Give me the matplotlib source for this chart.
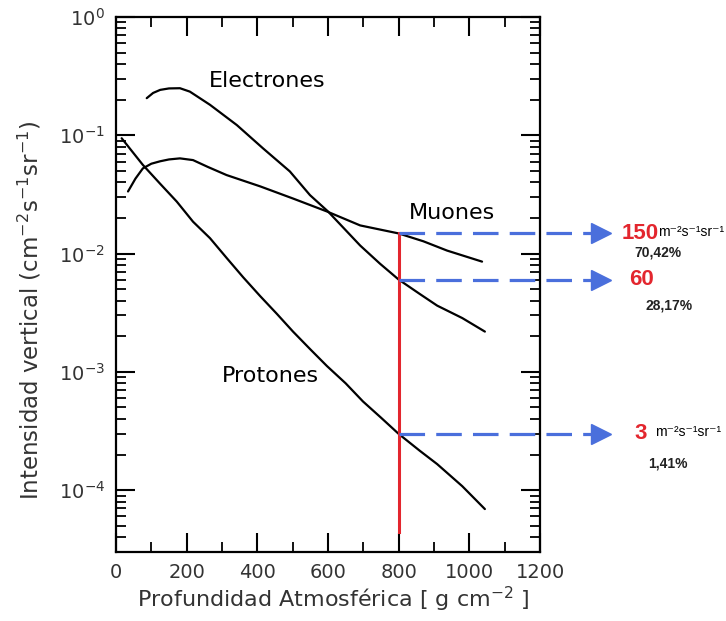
import numpy as np
import matplotlib
matplotlib.use("Agg")
import matplotlib.pyplot as plt
from matplotlib.ticker import MultipleLocator, LogLocator, NullFormatter

# profundidad atmosferica (g cm^-2) e intensidad vertical (cm^-2 s^-1 sr^-1)
electrones_x = [87, 105, 125, 150, 181, 209, 266, 342, 416, 492, 549, 600, 691, 747, 800, 860, 909, 980, 1044]
electrones_y = [0.206, 0.228, 0.242, 0.249, 0.250, 0.234, 0.181, 0.122, 0.0776, 0.0495, 0.0312,
                0.0227, 0.0117, 0.00822, 0.00603, 0.00455, 0.00363, 0.00285, 0.00219]

muones_x = [34, 55, 76, 100, 125, 150, 181, 218, 260, 313, 408, 501, 597, 691, 800, 870, 937, 1036]
muones_y = [0.0335, 0.0430, 0.0525, 0.0575, 0.0603, 0.0625, 0.0638, 0.0617, 0.0540, 0.0461,
            0.0370, 0.0292, 0.0227, 0.0173, 0.0148, 0.0127, 0.0106, 0.00855]

protones_x = [16, 76, 125, 172, 218, 266, 314, 360, 408, 455, 501, 550, 597, 650, 699, 750, 800, 860, 909, 980, 1044]
protones_y = [0.0944, 0.0562, 0.0389, 0.0275, 0.0186, 0.0135, 0.00912, 0.00630, 0.00437, 0.00310,
              0.00219, 0.00155, 0.00112, 0.00080, 0.000562, 0.000410, 0.000299, 0.000215,
              0.000166, 0.000108, 0.0000692]

corte_x = 800
corte_y = [0.0148, 0.00603, 0.000299]      # muones, electrones, protones en 800
corte_min = 4.4e-5
flujos = ["150", "60", "3"]
porcentajes = ["70,42%", "28,17%", "1,41%"]
con_unidades = [True, False, True]

rojo = "#e3262e"
azul = "#4a6fdc"
fuente = ["Liberation Sans", "DejaVu Sans"]

fig = plt.figure(figsize=(7.26, 6.21), dpi=100)
ax = fig.add_axes([116 / 726, 1 - 552 / 621, 424 / 726, 535 / 621])

for xs, ys in [(electrones_x, electrones_y), (muones_x, muones_y), (protones_x, protones_y)]:
    ax.plot(xs, ys, color="black", lw=1.6, solid_capstyle="round", solid_joinstyle="round")

ax.set_yscale("log")
ax.set_xlim(0, 1200)
ax.set_ylim(3e-5, 1)

ax.text(427, 0.287, "Electrones", fontsize=16, ha="center", va="center")
ax.text(951, 0.0222, "Muones", fontsize=16, ha="center", va="center")
ax.text(436, 0.000925, "Protones", fontsize=16, ha="center", va="center")

# linea roja en 800 g cm^-2
ax.plot([corte_x, corte_x], [corte_min, corte_y[0]], color=rojo, lw=2.2, zorder=3)

# flechas discontinuas
offs_flujo = [8, 13, 17]
offs_unid = [34, 0, 32]
offs_pct = [(17, -14), (25, -19), (27, -21)]
for i, v in enumerate(corte_y):
    ax.plot([corte_x, 1350], [v, v], color=azul, lw=2.3, dashes=(8, 3.5),
            clip_on=False, zorder=4)
    ax.plot(1373, v, marker=">", ms=14, color=azul, clip_on=False, zorder=4)
    ax.annotate(flujos[i], xy=(1400, v), xytext=(offs_flujo[i], 0),
                textcoords="offset points", color=rojo, fontsize=16,
                fontweight="bold", family=fuente, ha="left", va="center",
                annotation_clip=False)
    if con_unidades[i]:
        ax.annotate("m⁻²s⁻¹sr⁻¹", xy=(1400, v),
                    xytext=(offs_unid[i], 1), textcoords="offset points",
                    fontsize=10, family=fuente, ha="left",
                    va="center", annotation_clip=False)
    ax.annotate(porcentajes[i], xy=(1400, v), xytext=offs_pct[i],
                textcoords="offset points", color="#222222", fontsize=10,
                fontweight="bold", family=fuente, ha="left", va="center",
                annotation_clip=False)

ax.xaxis.set_major_locator(MultipleLocator(200))
ax.xaxis.set_minor_locator(MultipleLocator(100))
ax.yaxis.set_major_locator(LogLocator(base=10, numticks=10))
ax.yaxis.set_minor_locator(LogLocator(base=10, subs=np.arange(2, 10), numticks=20))
ax.yaxis.set_minor_formatter(NullFormatter())

ax.tick_params(which="both", direction="in", top=True, right=True,
               labelcolor="#333333", labelsize=14)
ax.tick_params(which="major", length=13.5, width=1.5, pad=8)
ax.tick_params(which="minor", length=7, width=1.3)
for s in ax.spines.values():
    s.set_linewidth(1.6)

ax.set_xlabel("Profundidad Atmosférica [ g cm$^{-2}$ ]", fontsize=16, color="#333333")
ax.set_ylabel("Intensidad vertical (cm$^{-2}$s$^{-1}$sr$^{-1}$)", fontsize=16.5,
              color="#333333")
ax.xaxis.set_label_coords(0.512, -0.062)
ax.yaxis.set_label_coords(-0.172, 0.452)

fig.savefig("out.png", dpi=100)
